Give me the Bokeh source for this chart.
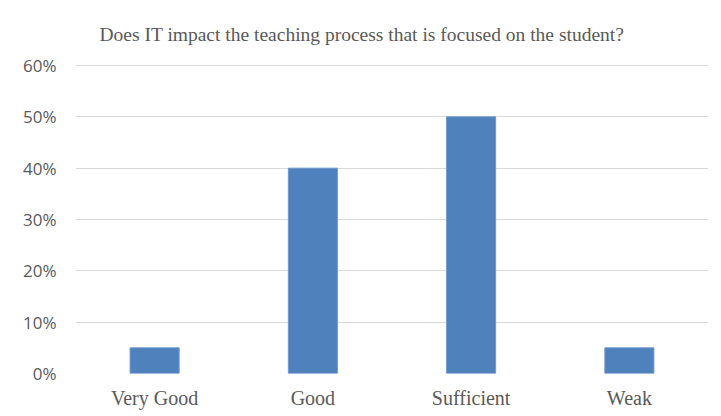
from bokeh.plotting import figure
from bokeh.models import FactorRange, Range1d, FixedTicker, NumeralTickFormatter
from bokeh.embed import file_html
from bokeh.resources import INLINE

categories = ["Very Good", "Good", "Sufficient", "Weak"]
values = [0.05, 0.40, 0.50, 0.05]
y_ticks = [0.0, 0.1, 0.2, 0.3, 0.4, 0.5, 0.6]
title_text = "Does IT impact the teaching process that is focused on the student?"

p = figure(
    x_range=FactorRange(*categories, range_padding=0),
    y_range=Range1d(0, 0.6 * 309 / 308),
    frame_width=633, frame_height=309,
    output_backend="svg", toolbar_location=None,
    min_border_left=75, min_border_right=9, min_border_top=64, min_border_bottom=34,
    title=title_text,
)
p.vbar(x=categories, top=values, width=0.31, fill_color="#4F81BD", line_color="#6E98CC", line_width=1)

p.title.text_font = "Liberation Serif"
p.title.text_font_size = "19.5px"
p.title.text_font_style = "normal"
p.title.text_color = "#595959"
p.title.align = "left"
p.title.offset = 24
p.title.standoff = 39

p.outline_line_color = None
p.xgrid.grid_line_color = None
p.ygrid.grid_line_color = "#D9D9D9"
p.ygrid.grid_line_width = 1

p.yaxis.ticker = FixedTicker(ticks=y_ticks)
p.yaxis.formatter = NumeralTickFormatter(format="0%")
p.yaxis.major_label_text_font = "Open Sans"
p.yaxis.major_label_text_font_size = "17px"
p.yaxis.major_label_text_color = "#595959"
p.yaxis.major_label_standoff = 19

p.xaxis.major_label_text_font = "Liberation Serif"
p.xaxis.major_label_text_font_size = "20px"
p.xaxis.major_label_text_color = "#595959"
p.xaxis.major_label_standoff = 13

for ax in (p.xaxis, p.yaxis):
    ax.axis_line_color = None
    ax.major_tick_line_color = None
    ax.minor_tick_line_color = None
    ax.major_tick_out = 0
    ax.major_tick_in = 0

p.background_fill_color = "white"
p.border_fill_color = "white"

open("out.html", "w").write(file_html(p, INLINE))
